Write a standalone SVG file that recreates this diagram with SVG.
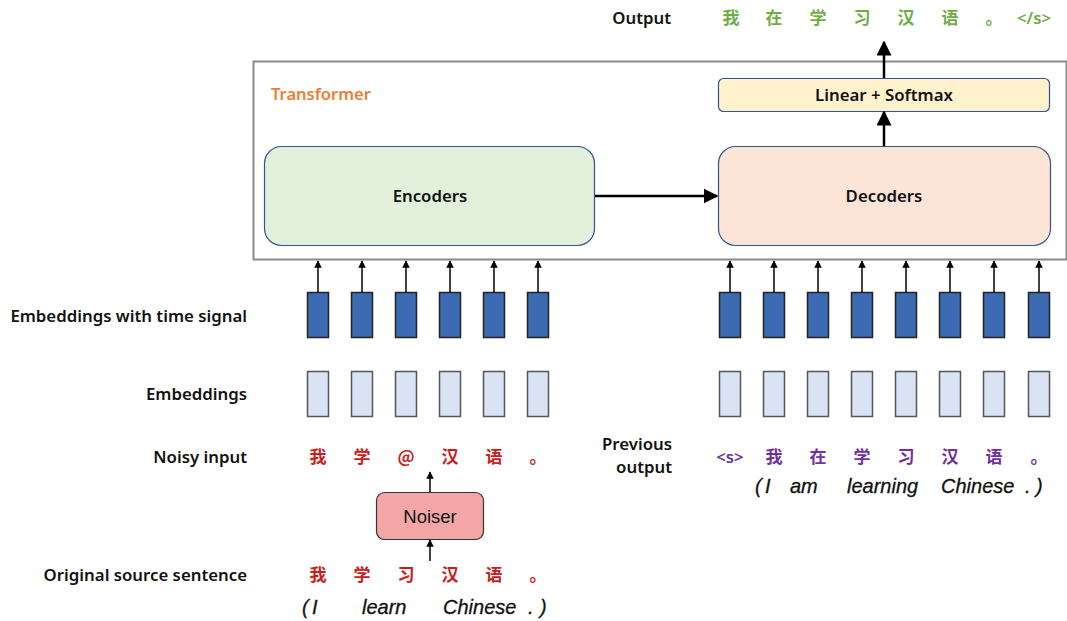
<svg xmlns="http://www.w3.org/2000/svg" width="1067" height="621" viewBox="0 0 1067 621">
<defs>
<marker id="ah" viewBox="0 0 10 10" refX="9" refY="5" markerWidth="5" markerHeight="5" orient="auto"><path d="M0,0 L10,5 L0,10 z" fill="#000"/></marker>
<marker id="ahs" viewBox="0 0 10 10" refX="9" refY="5" markerWidth="6" markerHeight="6" orient="auto"><path d="M0,0 L10,5 L0,10 z" fill="#000"/></marker>
<style>
.lbl{font-family:"Noto Sans","Open Sans",sans-serif;font-weight:600;font-size:16.8px;fill:#111}
.zh{font-family:"Noto Sans CJK SC",sans-serif;font-weight:700;font-size:17px;text-anchor:middle}
.red{fill:#c8201e}
.grn{fill:#70ad47}
.pur{fill:#7030a0}
.it{font-family:"Liberation Sans",Arial,sans-serif;font-style:italic;font-size:20px;fill:#111;stroke:#111;stroke-width:0.3}
.emb1{fill:#3c6bb4;stroke:#222;stroke-width:1.5}
.emb0{fill:#dae3f3;stroke:#555;stroke-width:1.5}
.arr{stroke:#000;stroke-width:1.5;fill:none;marker-end:url(#ah)}
.arrb{stroke:#000;stroke-width:2.5;fill:none;marker-end:url(#ahs)}
</style>
</defs>
<rect width="1067" height="621" fill="#fff"/>

<g id="transformer">
<rect x="253.5" y="61.5" width="813" height="198" fill="#fff" stroke="#8a8a8a" stroke-width="2"/>
<text x="271" y="100" font-family="Noto Sans,sans-serif" font-weight="600" font-size="16.5" fill="#ed7d31">Transformer</text>
</g>

<g id="encoders">
<rect x="264.5" y="146.5" width="330" height="99" rx="17" fill="#e2efda" stroke="#2f5597" stroke-width="1.2"/>
<text x="430" y="202" class="lbl" text-anchor="middle">Encoders</text>
</g>

<g id="decoders">
<rect x="718.5" y="146.5" width="332" height="99" rx="17" fill="#fce4d6" stroke="#2f5597" stroke-width="1.2"/>
<text x="884" y="202" class="lbl" text-anchor="middle">Decoders</text>
</g>

<g id="linear">
<rect x="718.5" y="78.5" width="331" height="33" rx="5" fill="#fff2cc" stroke="#2f5597" stroke-width="1.2"/>
<text x="884" y="101" class="lbl" text-anchor="middle">Linear + Softmax</text>
</g>

<g id="output">
<text x="671" y="24" class="lbl" text-anchor="end">Output</text>
<g class="zh grn">
<text x="731" y="24">我</text><text x="774" y="24">在</text><text x="818" y="24">学</text><text x="862" y="24">习</text><text x="906" y="24">汉</text><text x="950" y="24">语</text><text x="994" y="24">。</text>
</g>
<text x="1034" y="24" class="lbl" text-anchor="middle" style="fill:#70ad47">&lt;/s&gt;</text>
</g>

<g id="row-labels">
<text x="247" y="322" class="lbl" text-anchor="end">Embeddings with time signal</text>
<text x="247" y="400" class="lbl" text-anchor="end">Embeddings</text>
<text x="247" y="463" class="lbl" text-anchor="end">Noisy input</text>
<text x="247" y="581" class="lbl" text-anchor="end">Original source sentence</text>
<text x="672" y="450" class="lbl" text-anchor="end">Previous</text>
<text x="672" y="473" class="lbl" text-anchor="end">output</text>
</g>

<g id="enc-embeddings">
<rect x="307.5" y="292.5" width="21" height="45" class="emb1"/>
<rect x="351.5" y="292.5" width="21" height="45" class="emb1"/>
<rect x="395.5" y="292.5" width="21" height="45" class="emb1"/>
<rect x="439.5" y="292.5" width="21" height="45" class="emb1"/>
<rect x="483.5" y="292.5" width="21" height="45" class="emb1"/>
<rect x="527.5" y="292.5" width="21" height="45" class="emb1"/>
<rect x="307.5" y="371.5" width="21" height="45" class="emb0"/>
<rect x="351.5" y="371.5" width="21" height="45" class="emb0"/>
<rect x="395.5" y="371.5" width="21" height="45" class="emb0"/>
<rect x="439.5" y="371.5" width="21" height="45" class="emb0"/>
<rect x="483.5" y="371.5" width="21" height="45" class="emb0"/>
<rect x="527.5" y="371.5" width="21" height="45" class="emb0"/>
</g>

<g id="dec-embeddings">
<rect x="719.5" y="292.5" width="21" height="45" class="emb1"/>
<rect x="763.5" y="292.5" width="21" height="45" class="emb1"/>
<rect x="807.5" y="292.5" width="21" height="45" class="emb1"/>
<rect x="851.5" y="292.5" width="21" height="45" class="emb1"/>
<rect x="895.5" y="292.5" width="21" height="45" class="emb1"/>
<rect x="939.5" y="292.5" width="21" height="45" class="emb1"/>
<rect x="983.5" y="292.5" width="21" height="45" class="emb1"/>
<rect x="1028.5" y="292.5" width="21" height="45" class="emb1"/>
<rect x="719.5" y="371.5" width="21" height="45" class="emb0"/>
<rect x="763.5" y="371.5" width="21" height="45" class="emb0"/>
<rect x="807.5" y="371.5" width="21" height="45" class="emb0"/>
<rect x="851.5" y="371.5" width="21" height="45" class="emb0"/>
<rect x="895.5" y="371.5" width="21" height="45" class="emb0"/>
<rect x="939.5" y="371.5" width="21" height="45" class="emb0"/>
<rect x="983.5" y="371.5" width="21" height="45" class="emb0"/>
<rect x="1028.5" y="371.5" width="21" height="45" class="emb0"/>
</g>

<g id="noisy-input">
<g class="zh red">
<text x="318" y="463">我</text><text x="362" y="463">学</text><text x="406" y="463">@</text><text x="450" y="463">汉</text><text x="494" y="463">语</text><text x="538" y="463">。</text>
</g>
</g>

<g id="noiser">
<rect x="376.5" y="492.5" width="107" height="47" rx="8" fill="#f4a5a7" stroke="#333" stroke-width="1.2"/>
<text x="430" y="523" font-family="Liberation Sans,Arial,sans-serif" font-size="18.5" fill="#111" text-anchor="middle">Noiser</text>
</g>

<g id="source">
<g class="zh red">
<text x="318" y="581">我</text><text x="362" y="581">学</text><text x="406" y="581">习</text><text x="450" y="581">汉</text><text x="494" y="581">语</text><text x="538" y="581">。</text>
</g>
<g class="it">
<text x="302" y="614">(</text><text x="312" y="614">I</text><text x="362" y="614">learn</text><text x="443" y="614">Chinese</text><text x="528" y="614">.</text><text x="540" y="614">)</text>
</g>
</g>

<g id="previous-output">
<text x="730" y="463" class="lbl" text-anchor="middle" style="fill:#7030a0">&lt;s&gt;</text>
<g class="zh pur">
<text x="774" y="463">我</text><text x="818" y="463">在</text><text x="862" y="463">学</text><text x="906" y="463">习</text><text x="950" y="463">汉</text><text x="994" y="463">语</text><text x="1039" y="463">。</text>
</g>
<g class="it">
<text x="755" y="493">(</text><text x="765" y="493">I</text><text x="790" y="493">am</text><text x="847" y="493">learning</text><text x="941" y="493">Chinese</text><text x="1025" y="493">.</text><text x="1036" y="493">)</text>
</g>
</g>

<g id="connectors">
<path d="M318,292 V261" class="arr"/>
<path d="M362,292 V261" class="arr"/>
<path d="M406,292 V261" class="arr"/>
<path d="M450,292 V261" class="arr"/>
<path d="M494,292 V261" class="arr"/>
<path d="M538,292 V261" class="arr"/>
<path d="M730,292 V261" class="arr"/>
<path d="M774,292 V261" class="arr"/>
<path d="M818,292 V261" class="arr"/>
<path d="M862,292 V261" class="arr"/>
<path d="M906,292 V261" class="arr"/>
<path d="M950,292 V261" class="arr"/>
<path d="M994,292 V261" class="arr"/>
<path d="M1039,292 V261" class="arr"/>
<path d="M595,196 H717" class="arrb"/>
<path d="M884,146 V112" class="arrb"/>
<path d="M884,78 V42" class="arrb"/>
<path d="M430,492 V472" class="arr"/>
<path d="M430,561 V540" class="arr"/>
</g>
</svg>
